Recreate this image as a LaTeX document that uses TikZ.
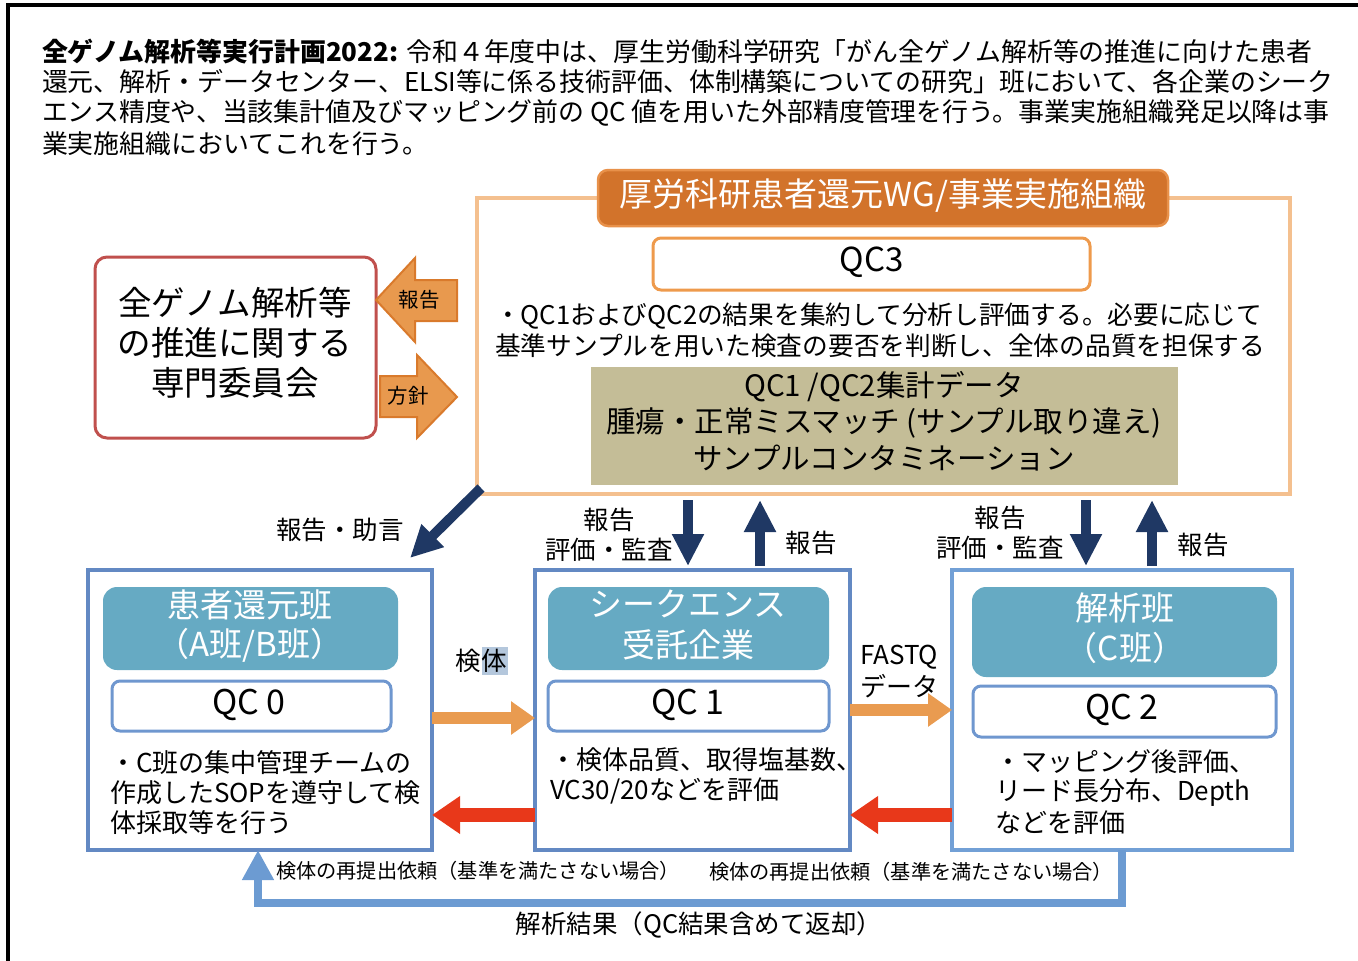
\documentclass[tikz,border=0pt]{standalone}
\usepackage{fontspec}
\setmainfont{Noto Sans CJK JP}
\usetikzlibrary{arrows.meta,calc}
\definecolor{navy}{HTML}{1F3864}
\definecolor{peach}{HTML}{F4C08F}
\definecolor{hdrorange}{HTML}{D2732B}
\definecolor{hdrborder}{HTML}{E8914A}
\definecolor{qcorange}{HTML}{EE9A4C}
\definecolor{khaki}{HTML}{C4BD97}
\definecolor{redbrown}{HTML}{C0504D}
\definecolor{blockfill}{HTML}{E8994E}
\definecolor{blockline}{HTML}{D97A2C}
\definecolor{boxblue}{HTML}{6389C3}
\definecolor{boxbluel}{HTML}{72A0D6}
\definecolor{hdrteal}{HTML}{66AAC3}
\definecolor{qcblue}{HTML}{6F97CF}
\definecolor{arrorange}{HTML}{E99B50}
\definecolor{arrred}{HTML}{E8381A}
\definecolor{loopblue}{HTML}{6C9BD2}
\definecolor{hilite}{HTML}{B4C7DC}
\newcommand\fsz[1]{\fontsize{#1}{#1}\selectfont}
\tikzset{
  txt/.style={inner sep=0pt, outer sep=0pt},
  panel/.style={draw, minimum width=#1, inner sep=0pt, outer sep=0pt},
  navyarrow/.style={draw=navy, line width=10pt, -{Triangle[length=32pt,width=30pt]}},
  orangearrow/.style={draw=arrorange, line width=12pt, -{Triangle[length=24pt,width=32pt]}},
  redarrow/.style={draw=arrred, line width=14pt, -{Triangle[length=28pt,width=36pt]}},
  looparrow/.style={draw=loopblue, line width=8pt, -{Triangle[length=30pt,width=30pt]}},
}
\begin{document}
\begin{tikzpicture}[x=1pt,y=-1pt]
\useasboundingbox (0,0) rectangle (1358,961);
% outer frame
\draw[line width=3.5pt] (8,965) -- (8,5) -- (1362,5);

% title text
\node[txt,anchor=west] (t1) at (42,52) {\fsz{25.9}{\bfseries 全ゲノム解析等実行計画2022:}\hspace{8pt}令和４年度中は、厚生労働科学研究「がん全ゲノム解析等の推進に向けた患者};
\node[txt,anchor=west] (t2) at (42,82) {\fsz{25.9}還元、解析・データセンター、ELSI等に係る技術評価、体制構築についての研究」班において、各企業のシーク};
\node[txt,anchor=west] (t3) at (42,113) {\fsz{25.9}エンス精度や、当該集計値及びマッピング前の QC 値を用いた外部精度管理を行う。事業実施組織発足以降は事};
\node[txt,anchor=west] (t4) at (42,144) {\fsz{25.9}業実施組織においてこれを行う。};

% big peach box
\node[panel=813pt, draw=peach, line width=4pt, minimum height=296pt] (big) at (883.5,346) {};
\node[panel=570pt, draw=hdrborder, fill=hdrorange, line width=2.5pt, minimum height=56pt, rounded corners=10pt] (hdr) at (883,198) {};
\node[txt, text=white] at (883,196) {\fsz{33}厚労科研患者還元WG/事業実施組織};
\node[panel=437pt, draw=qcorange, fill=white, line width=3pt, minimum height=52pt, rounded corners=8pt] (qc3) at (871.5,264) {};
\node[txt] at (871.5,262) {\fsz{33}QC3};
\node[txt,anchor=west] (p1) at (495,316) {\fsz{25.7}・QC1およびQC2の結果を集約して分析し評価する。必要に応じて};
\node[txt,anchor=west] (p2) at (495,346) {\fsz{25.7}基準サンプルを用いた検査の要否を判断し、全体の品質を担保する};
\node[panel=587pt, draw=none, fill=khaki, minimum height=118pt] (khaki) at (884.5,426) {};
\node[txt] at (884,387) {\fsz{29.5}QC1 /QC2集計データ};
\node[txt] at (884,423) {\fsz{29.5}腫瘍・正常ミスマッチ (サンプル取り違え)};
\node[txt] at (884,458) {\fsz{29.5}サンプルコンタミネーション};

% left committee box
\node[panel=281pt, draw=redbrown, line width=3pt, minimum height=181pt, rounded corners=12pt] (comm) at (235.5,347.5) {};
\node[txt] at (235,303) {\fsz{33.5}全ゲノム解析等};
\node[txt] at (235,343) {\fsz{33.5}の推進に関する};
\node[txt] at (235,383) {\fsz{33.5}専門委員会};

% block arrows
\draw[draw=blockline, fill=blockfill, line width=2pt] (376,300) -- (415,258) -- (415,280) -- (457,280) -- (457,321) -- (415,321) -- (415,342) -- cycle;
\node[txt] (rep) at (419,300) {\fsz{20.5}報告};
\draw[draw=blockline, fill=blockfill, line width=2pt] (380,376) -- (417,376) -- (417,355) -- (457,397) -- (417,438) -- (417,417) -- (380,417) -- cycle;
\node[txt] (pol) at (408,396) {\fsz{20.5}方針};

% bottom boxes
\node[panel=344pt, draw=boxblue, line width=4pt, minimum height=280pt] (boxA) at (260,710) {};
\node[panel=315pt, draw=boxblue, line width=4pt, minimum height=280pt] (boxB) at (692.5,710) {};
\node[panel=340pt, draw=boxbluel, line width=4pt, minimum height=280pt] (boxC) at (1122,710) {};

\node[panel=295pt, draw=none, fill=hdrteal, minimum height=83pt, rounded corners=14pt] (hA) at (250.5,628.5) {};
\node[panel=281pt, draw=none, fill=hdrteal, minimum height=83pt, rounded corners=14pt] (hB) at (688.5,628.5) {};
\node[panel=305pt, draw=none, fill=hdrteal, minimum height=90pt, rounded corners=14pt] (hC) at (1124.5,632) {};
\node[txt,text=white] at (250,605) {\fsz{33}患者還元班};
\node[txt,text=white] at (250,645) {\fsz{33}（A班/B班）};
\node[txt,text=white] at (688,604) {\fsz{33}シークエンス};
\node[txt,text=white] at (688,645) {\fsz{33}受託企業};
\node[txt,text=white] at (1125,608) {\fsz{33}解析班};
\node[txt,text=white] at (1125,648) {\fsz{33}（C班）};

\node[panel=279pt, draw=qcblue, fill=white, line width=3pt, minimum height=50pt, rounded corners=8pt] (qc0) at (251.5,706) {};
\node[panel=281pt, draw=qcblue, fill=white, line width=3pt, minimum height=50pt, rounded corners=8pt] (qc1) at (688.5,706) {};
\node[panel=303pt, draw=qcblue, fill=white, line width=3pt, minimum height=51pt, rounded corners=8pt] (qc2) at (1124.5,711.5) {};
\node[txt] at (249,705) {\fsz{34}QC 0};
\node[txt] at (688,705) {\fsz{34}QC 1};
\node[txt] at (1122,710) {\fsz{34}QC 2};

\node[txt,anchor=west] at (110,763) {\fsz{26}・C班の集中管理チームの};
\node[txt,anchor=west] at (110,793) {\fsz{26}作成したSOPを遵守して検};
\node[txt,anchor=west] at (110,823) {\fsz{26}体採取等を行う};
\node[txt,anchor=west] at (550,760) {\fsz{26}・検体品質、取得塩基数、};
\node[txt,anchor=west] at (550,791) {\fsz{26}VC30/20などを評価};
\node[txt,anchor=west] at (995,762) {\fsz{26}・マッピング後評価、};
\node[txt,anchor=west] at (995,793) {\fsz{26}リード長分布、Depth};
\node[txt,anchor=west] at (995,823) {\fsz{26}などを評価};

% coordinates for connectors
\coordinate (ydn) at (0,500);
\coordinate (yup) at (0,566);
\coordinate (xd1) at (688,0);
\coordinate (xu1) at (760,0);
\coordinate (xd2) at (1086,0);
\coordinate (xu2) at (1152,0);
\coordinate (yor1) at (0,718);
\coordinate (yor2) at (0,710);
\coordinate (yred) at (0,815);
\coordinate (diagend) at (410,558);
\coordinate (loopy) at (0,903);
\coordinate (loopx) at (258,0);

% navy arrows
\draw[navyarrow] (big.south west) ++(4,-6) -- (diagend);
\draw[navyarrow] (xd1 |- ydn) -- (xd1 |- yup);
\draw[navyarrow] (xu1 |- yup) -- (xu1 |- ydn);
\draw[navyarrow] (xd2 |- ydn) -- (xd2 |- yup);
\draw[navyarrow] (xu2 |- yup) -- (xu2 |- ydn);
\node[txt] at (340,530) {\fsz{25.5}報告・助言};
\node[txt] at (609,520) {\fsz{25.5}報告};
\node[txt] at (609,550) {\fsz{25.5}評価・監査};
\node[txt] at (811,543) {\fsz{25.5}報告};
\node[txt] at (1000,518) {\fsz{25.5}報告};
\node[txt] at (1000,548) {\fsz{25.5}評価・監査};
\node[txt] at (1203,545) {\fsz{25.5}報告};

% orange arrows
\draw[orangearrow] (boxA.east |- yor1) -- (boxB.west |- yor1);
\draw[orangearrow] (boxB.east |- yor2) -- (boxC.west |- yor2);
\fill[hilite] (482,647) rectangle (508,675);
\node[txt] at (481,661) {\fsz{25.5}検体};
\node[txt,anchor=west] at (860,657) {\fsz{26}FASTQ};
\node[txt,anchor=west] at (860,686) {\fsz{26}データ};

% red arrows
\draw[redarrow] (boxB.west |- yred) -- (boxA.east |- yred);
\draw[redarrow] (boxC.west |- yred) -- (boxB.east |- yred);

% loop arrow
\draw[looparrow] (boxC.south) -- (boxC.south |- loopy) -| (loopx |- boxA.south);
\node[txt] at (478,871) {\fsz{20.2}検体の再提出依頼（基準を満たさない場合）};
\node[txt] at (911,872) {\fsz{20.2}検体の再提出依頼（基準を満たさない場合）};
\node[txt] at (699,925) {\fsz{25.5}解析結果（QC結果含めて返却）};
\end{tikzpicture}
\end{document}
